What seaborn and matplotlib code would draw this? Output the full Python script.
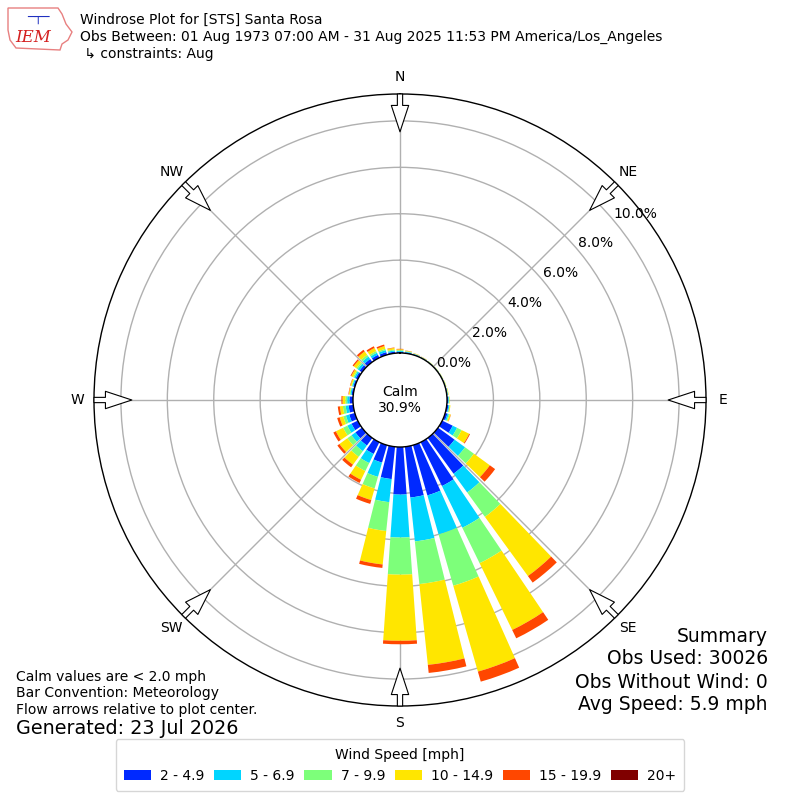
import numpy as np
import matplotlib
matplotlib.use("Agg")
import matplotlib.pyplot as plt
from matplotlib.patches import Patch, Polygon
import seaborn as sns

sns.set_style("white")
plt.rcParams['font.family'] = ['DejaVu Sans']
plt.rcParams['text.color'] = 'black'
plt.rcParams['xtick.color'] = 'black'
plt.rcParams['ytick.color'] = 'black'
plt.rcParams['axes.labelcolor'] = 'black'

# direction bins (deg, meteorological) and frequency (%) per speed bin
directions = np.arange(0, 360, 10)
speed_labels = ['2 - 4.9', '5 - 6.9', '7 - 9.9', '10 - 14.9', '15 - 19.9', '20+']

spd_2_5 = [0.05, 0.04, 0.03, 0.02, 0.02, 0.02, 0.02, 0.02, 0.03, 0.05, 0.07, 0.10,
           0.50, 0.88, 1.90, 2.10, 2.25, 2.20, 2.05, 1.40, 0.78, 0.56, 0.40, 0.35,
           0.30, 0.25, 0.20, 0.15, 0.07, 0.07, 0.10, 0.13, 0.16, 0.14, 0.12, 0.07]
spd_5_7 = [0.04, 0.03, 0.02, 0.015, 0.01, 0.01, 0.01, 0.015, 0.02, 0.03, 0.04, 0.06,
           0.21, 0.56, 1.00, 2.00, 1.75, 1.90, 1.85, 1.00, 0.64, 0.44, 0.30, 0.21,
           0.20, 0.15, 0.13, 0.10, 0.05, 0.05, 0.07, 0.10, 0.13, 0.10, 0.09, 0.05]
spd_7_10 = [0.03, 0.02, 0.01, 0.01, 0.01, 0.01, 0.01, 0.01, 0.01, 0.02, 0.02, 0.04,
            0.22, 0.47, 1.30, 1.70, 2.30, 1.85, 1.60, 1.25, 0.52, 0.38, 0.30, 0.22,
            0.20, 0.12, 0.12, 0.08, 0.03, 0.03, 0.05, 0.07, 0.09, 0.08, 0.06, 0.04]
spd_10_15 = [0.04, 0.02, 0.015, 0.01, 0.01, 0.01, 0.01, 0.015, 0.02, 0.02, 0.03, 0.05,
             0.36, 0.85, 3.15, 3.20, 3.85, 3.50, 2.85, 1.45, 0.52, 0.42, 0.42, 0.42,
             0.35, 0.16, 0.13, 0.12, 0.04, 0.05, 0.09, 0.14, 0.18, 0.15, 0.12, 0.07]
spd_15_20 = [0.02, 0.01, 0.005, 0.005, 0, 0, 0, 0, 0, 0, 0, 0.01,
             0.04, 0.28, 0.35, 0.40, 0.45, 0.35, 0.15, 0.15, 0.17, 0.15, 0.14, 0.11,
             0.12, 0.11, 0.09, 0.05, 0.02, 0.02, 0.04, 0.06, 0.09, 0.08, 0.07, 0.02]
spd_20 = [0] * 36

series = [spd_2_5, spd_5_7, spd_7_10, spd_10_15, spd_15_20, spd_20]
colors = [plt.cm.jet(i / 6) for i in range(1, 7)]

rticks = [0, 2, 4, 6, 8, 10]
rmax = 11.16
calm_pct = 30.9

fig = plt.figure(figsize=(8, 8), dpi=100)
ax = fig.add_axes([0.1175, 0.1175, 0.765, 0.765], projection='polar')
ax.set_theta_zero_location('N')
ax.set_theta_direction(-1)
ax.set_rorigin(-2.026)
ax.set_ylim(0, rmax)

theta = np.radians(directions)
width = np.radians(10) * 0.8
bottom = np.zeros(len(directions))
for vals, c in zip(series, colors):
    vals = np.array(vals, dtype=float)
    ax.bar(theta, vals, width=width, bottom=bottom, color=c, edgecolor='none', zorder=3)
    bottom += vals

ax.set_thetagrids(range(0, 360, 45), ['N', 'NE', 'E', 'SE', 'S', 'SW', 'W', 'NW'])
ax.tick_params(axis='x', pad=1.5, labelsize=10, colors='black')
ax.set_rticks(rticks)
ax.set_yticklabels(['%.1f%%' % t for t in rticks], fontsize=10)
ax.set_rlabel_position(50)
ax.grid(True, color='#b0b0b0', lw=1)
ax.spines['polar'].set_color('black')
ax.spines['polar'].set_linewidth(1)
ax.spines['inner'].set_color('black')
ax.spines['inner'].set_linewidth(1)
ax.spines['inner'].set_zorder(5)

# flow arrows
for a in range(0, 360, 45):
    ax.annotate('', xy=(np.radians(a), 9.53), xytext=(np.radians(a), rmax),
                arrowprops=dict(arrowstyle='simple,head_length=1.9,head_width=1.25,tail_width=0.38',
                                fc='white', ec='black', lw=0.8, shrinkA=0, shrinkB=0),
                annotation_clip=False, zorder=6)

ax.text(0.5, 0.5, 'Calm\n%.1f%%' % calm_pct, transform=ax.transAxes,
        ha='center', va='center', fontsize=10, zorder=7)

# header
fig.text(0.1, 1 - 20 / 800, 'Windrose Plot for [STS] Santa Rosa', fontsize=10, va='center')
fig.text(0.1, 1 - 37 / 800, 'Obs Between: 01 Aug 1973 07:00 AM - 31 Aug 2025 11:53 PM America/Los_Angeles',
         fontsize=10, va='center')
fig.text(0.1, 1 - 54 / 800, ' \u21b3 constraints: Aug', fontsize=10, va='center')

# logo stand-in (Iowa-like outline with IEM text)
outline = Polygon([[8, 8], [58, 8], [62, 14], [66, 24], [72, 32], [68, 40], [62, 44],
                   [60, 50], [16, 48], [10, 40], [8, 30]],
                  closed=True, fill=False, ec='#e88080', lw=1)
outline.set_transform(matplotlib.transforms.Affine2D().scale(1, -1).translate(0, 800))
fig.patches.append(outline)
fig.text(33 / 800, 1 - 38 / 800, 'IEM', color='#d42020', fontsize=12, family='DejaVu Serif',
         style='italic', ha='center', va='center')
fig.text(38 / 800, 1 - 18 / 800, '\u2500\u252c\u2500', color='#2030c0', fontsize=9,
         ha='center', va='center')

# footers
left_lines = ['Calm values are < 2.0 mph', 'Bar Convention: Meteorology',
              'Flow arrows relative to plot center.']
for i, s in enumerate(left_lines):
    fig.text(16 / 800, 1 - (677 + 16.5 * i) / 800, s, fontsize=10, va='center')
fig.text(16 / 800, 1 - 729 / 800, 'Generated: 23 Jul 2026', fontsize=13.75, va='center')

right_lines = ['Summary', 'Obs Used: 30026', 'Obs Without Wind: 0', 'Avg Speed: 5.9 mph']
for i, s in enumerate(right_lines):
    fig.text(768 / 800, 1 - (636 + 23 * i) / 800, s, fontsize=13.5, va='center', ha='right')

handles = [Patch(facecolor=c, edgecolor='none') for c in colors]
fig.legend(handles, speed_labels, loc='lower center', bbox_to_anchor=(0.5, 9 / 800), ncol=6,
           title='Wind Speed [mph]', fontsize=10, title_fontsize=10, handlelength=1.95,
           handleheight=0.7, handletextpad=0.65, columnspacing=0.7, borderpad=0.6,
           borderaxespad=0, frameon=True, fancybox=True)

fig.savefig('out.png', dpi=100)
